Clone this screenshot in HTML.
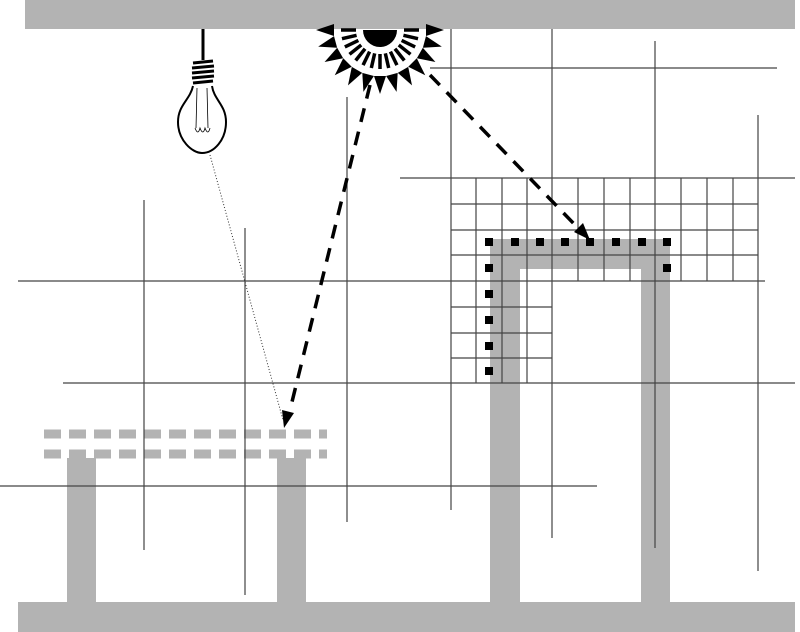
<!DOCTYPE html>
<html><head><style>html,body{margin:0;padding:0;background:#fff;}svg{display:block}</style></head>
<body>
<svg width="800" height="632" viewBox="0 0 800 632" xmlns="http://www.w3.org/2000/svg">
<g fill="#b3b3b3">
<rect x="25" y="0" width="770" height="29"/>
<rect x="18" y="602" width="777" height="30"/>
<rect x="67" y="458" width="29" height="145"/>
<rect x="277" y="458" width="29" height="145"/>
<path d="M490 239 H670 V603 H641 V269 H520 V603 H490 Z"/>
</g>
<g stroke="#b3b3b3" stroke-width="9" stroke-dasharray="17 8" fill="none">
<line x1="44" y1="434" x2="327" y2="434"/>
<line x1="44" y1="454" x2="327" y2="454"/>
</g>
<g stroke="#444" stroke-width="1.2" fill="none">
<line x1="18" y1="281" x2="765" y2="281"/>
<line x1="63" y1="383" x2="795" y2="383"/>
<line x1="0" y1="486" x2="597" y2="486"/>
<line x1="400" y1="178" x2="795" y2="178"/>
<line x1="430" y1="68" x2="777" y2="68"/>
<line x1="144" y1="200" x2="144" y2="550"/>
<line x1="245" y1="228" x2="245" y2="595"/>
<line x1="347" y1="97" x2="347" y2="522"/>
<line x1="451" y1="29" x2="451" y2="510"/>
<line x1="552" y1="29" x2="552" y2="538"/>
<line x1="655" y1="41" x2="655" y2="548"/>
<line x1="758" y1="115" x2="758" y2="571"/>
<line x1="451" y1="204" x2="758" y2="204"/>
<line x1="451" y1="230" x2="758" y2="230"/>
<line x1="451" y1="255" x2="758" y2="255"/>
<line x1="451" y1="307" x2="552" y2="307"/>
<line x1="451" y1="333" x2="552" y2="333"/>
<line x1="451" y1="358" x2="552" y2="358"/>
<line x1="476" y1="178" x2="476" y2="383"/>
<line x1="502" y1="178" x2="502" y2="383"/>
<line x1="527" y1="178" x2="527" y2="383"/>
<line x1="578" y1="178" x2="578" y2="281"/>
<line x1="604" y1="178" x2="604" y2="281"/>
<line x1="630" y1="178" x2="630" y2="281"/>
<line x1="681" y1="178" x2="681" y2="281"/>
<line x1="707" y1="178" x2="707" y2="281"/>
<line x1="733" y1="178" x2="733" y2="281"/>
</g>
<g fill="#000">
<rect x="485" y="238" width="8" height="8"/><rect x="511" y="238" width="8" height="8"/>
<rect x="536" y="238" width="8" height="8"/><rect x="561" y="238" width="8" height="8"/>
<rect x="586" y="238" width="8" height="8"/><rect x="612" y="238" width="8" height="8"/>
<rect x="638" y="238" width="8" height="8"/><rect x="663" y="238" width="8" height="8"/>
<rect x="663" y="264" width="8" height="8"/>
<rect x="485" y="264" width="8" height="8"/><rect x="485" y="290" width="8" height="8"/>
<rect x="485" y="316" width="8" height="8"/><rect x="485" y="342" width="8" height="8"/>
<rect x="485" y="367" width="8" height="8"/>
</g>
<line x1="210" y1="155" x2="283" y2="420" stroke="#333" stroke-width="1" stroke-dasharray="1 2"/>
<g stroke="#000" stroke-width="3.5" stroke-dasharray="14 10" fill="none">
<line x1="370" y1="85" x2="290" y2="410"/>
<line x1="430" y1="75" x2="578" y2="228"/>
</g>
<polygon points="284,428 282,410 294,413" fill="#000"/>
<polygon points="590,240 574,232 583,223" fill="#000"/>
<path d="M363 30 A17 17 0 0 0 397 30 Z" fill="#000"/>
<g stroke="#000" stroke-width="3.5" id="dashes"></g>
<g fill="#000" id="rays"></g>
<script>
(function(){
var ns="http://www.w3.org/2000/svg",cx=380,cy=30;
var d=document.getElementById('dashes'),r=document.getElementById('rays');
for(var i=0;i<=14;i++){var a=Math.PI*i/14;var c=Math.cos(a),s=Math.sin(a);
var l=document.createElementNS(ns,'line');l.setAttribute('x1',cx+c*24);l.setAttribute('y1',cy+s*24);l.setAttribute('x2',cx+c*39);l.setAttribute('y2',cy+s*39);d.appendChild(l);}
for(var i=0;i<=12;i++){var a=Math.PI*i/12;var c=Math.cos(a),s=Math.sin(a),pc=-s,ps=c;
var b=46,t=64,w=6;
var p=document.createElementNS(ns,'polygon');
p.setAttribute('points',(cx+c*b+pc*w)+','+(cy+s*b+ps*w)+' '+(cx+c*b-pc*w)+','+(cy+s*b-ps*w)+' '+(cx+c*t)+','+(cy+s*t));r.appendChild(p);}
})();
</script>
<line x1="203" y1="29" x2="203" y2="60" stroke="#000" stroke-width="3"/>
<g stroke="#000" stroke-width="3">
<line x1="193" y1="63" x2="213" y2="61"/><line x1="192" y1="68" x2="214" y2="66"/>
<line x1="192" y1="73" x2="214" y2="71"/><line x1="192" y1="78" x2="214" y2="76"/>
<line x1="193" y1="83" x2="213" y2="81"/>
</g>
<path d="M193 86 C190 100 178 105 178 122 C178 140 192 153 202 153 C214 153 226 140 226 122 C226 105 214 100 212 86" fill="none" stroke="#000" stroke-width="2"/>
<path d="M197 88 L196 128 M207 88 L208 128 M195 128 q3 8 5 0 q3 8 5 0 q3 8 5 0" fill="none" stroke="#000" stroke-width="0.8"/>
</svg>
</body></html>
